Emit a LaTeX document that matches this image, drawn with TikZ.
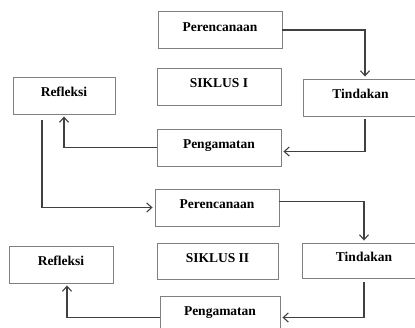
\documentclass[tikz,border=0pt]{standalone}
\usepackage{fontspec}
\setmainfont{Liberation Serif}
\usetikzlibrary{arrows.meta}

\begin{document}
\begin{tikzpicture}[x=1pt,y=1pt]
\tikzstyle{every node}+=[font=\fontsize{13.5}{15}\selectfont\bfseries]
\tikzstyle{stage}=[draw=black!50,line width=0.9pt,minimum width=124pt,minimum height=37pt,text height=9pt,text depth=7pt,inner sep=0pt]
\tikzstyle{flow}=[draw=black!75,line width=1.1pt,-{Straight Barb[length=5pt,width=9pt,line width=1.1pt]},shorten >=2pt]
\useasboundingbox (0,0) rectangle (415,-327);
\clip (0,0) rectangle (415,-327);
% siklus I
\node [stage] (per1) at (220,-30) {Perencanaan};
\node [stage] (sik1) at (219,-86.5) {SIKLUS I};
\node [stage,minimum width=102pt] (ref1) at (64,-95.5) {Refleksi};
\node [stage,minimum width=115pt] (tin1) at (360.5,-97.5) {Tindakan};
\node [stage] (pen1) at (219,-147.5) {Pengamatan};
% siklus II
\node [stage] (per2) at (217,-207.5) {Perencanaan};
\node [stage,minimum width=121pt,minimum height=36pt] (sik2) at (217.5,-261) {SIKLUS II};
\node [stage,minimum width=104pt] (ref2) at (61,-264.5) {Refleksi};
\node [stage,minimum height=35pt] (tin2) at (364,-260.5) {Tindakan};
\node [stage,minimum width=120pt] (pen2) at (220,-314.5) {Pengamatan};
% connectors
\draw [flow] (per1.east) -| ([xshift=4.5pt]tin1.north);
\draw [flow] ([xshift=4.5pt,yshift=-3pt]tin1.south) |- ([yshift=-4pt]pen1.east);
\draw [flow] (pen1.west) -| (ref1.south);
\draw [flow] ([xshift=-22pt,yshift=-6pt]ref1.south) |- (per2.west);
\draw [flow] ([yshift=6pt]per2.east) -| (tin2.north);
\draw [flow] ([yshift=-4pt]tin2.south) |- ([yshift=-3pt]pen2.east);
\draw [flow] ([yshift=-3pt]pen2.west) -| ([xshift=6pt]ref2.south);
\end{tikzpicture}
\end{document}
